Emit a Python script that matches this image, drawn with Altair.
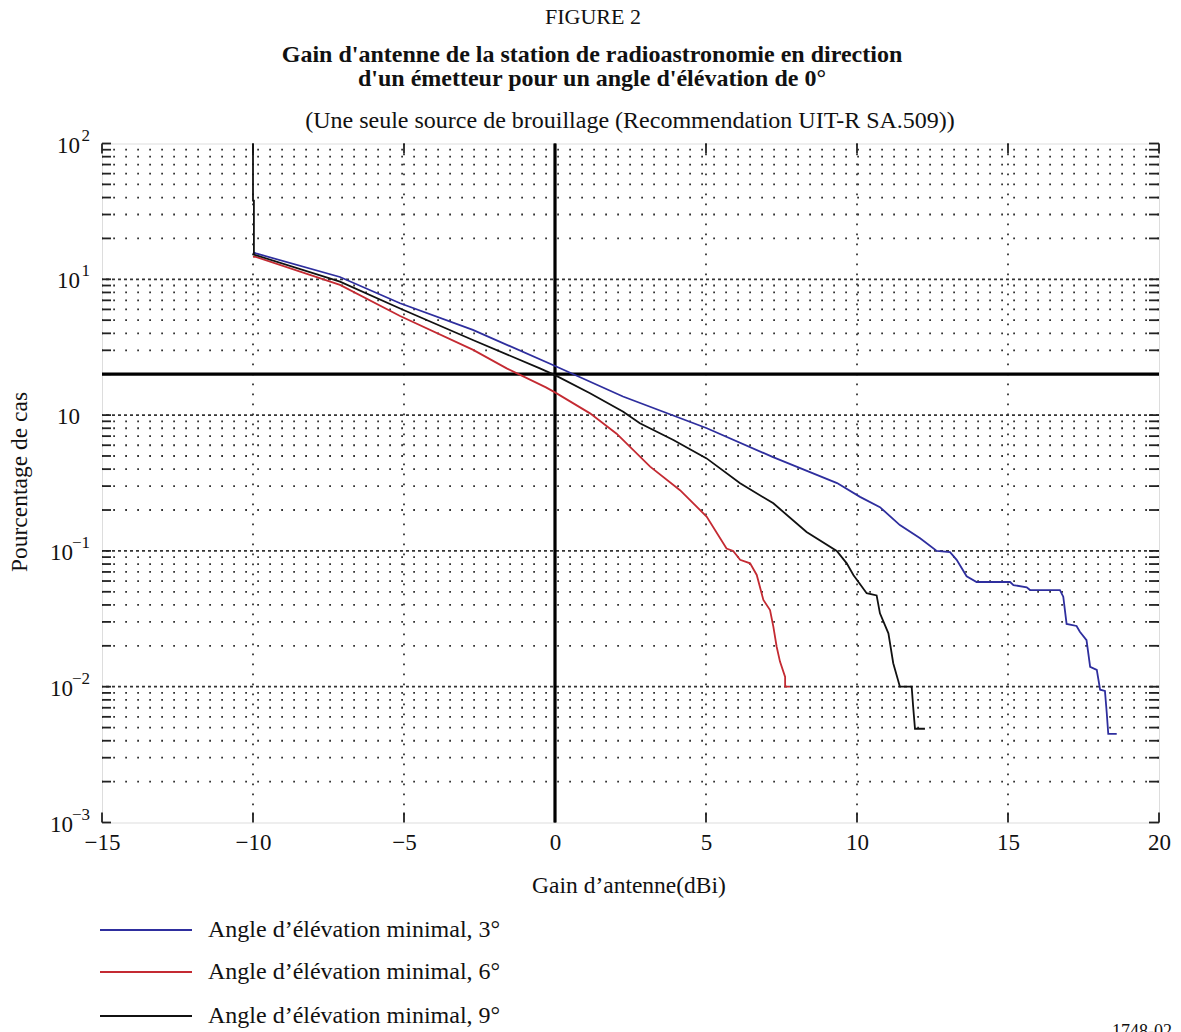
import altair as alt
import pandas as pd

# ---------------- data ----------------
blue_x = [-10, -9.9, -7.12, -5.13, -2.72, -0.07, 2.25, 5.03, 7.22, 9.34, 10.1, 10.76, 11.42,
          12.09, 12.64, 13.08, 13.30, 13.63, 13.96, 15.07, 15.18, 15.62, 15.73, 16.72, 16.83, 16.94,
          17.27, 17.38, 17.6, 17.72, 17.94, 18.05, 18.21, 18.27, 18.32, 18.6]
blue_y = [15.8, 15.5, 10.4, 6.66, 4.24, 2.34, 1.37, 0.80, 0.49, 0.316, 0.25, 0.21, 0.155,
          0.124, 0.10, 0.098, 0.086, 0.065, 0.059, 0.059, 0.056, 0.054, 0.0515, 0.0515, 0.046, 0.029,
          0.028, 0.0254, 0.022, 0.014, 0.0133, 0.0095, 0.0093, 0.0064, 0.0045, 0.0045]

red_x = [-10, -9.93, -7.12, -5.13, -2.71, -1.6, -0.3, 0, 1.16, 2.04, 3.15, 4.14, 5.02, 5.68,
         5.9, 6.13, 6.46, 6.68, 6.9, 7.12, 7.23, 7.34, 7.45, 7.62, 7.62, 7.78]
red_y = [14.6, 14.7, 9.1, 5.37, 3.02, 2.21, 1.6, 1.47, 1.03, 0.73, 0.417, 0.28, 0.179, 0.104,
         0.10, 0.086, 0.081, 0.0665, 0.0435, 0.0367, 0.0277, 0.0197, 0.0153, 0.0118, 0.0100, 0.0100]

black_x = [-10, -10, -9.97, -9.97, -7.12, -5.13, -2.72, -0.5, 0, 1.16, 2.26, 2.81, 3.92, 5.02, 6.13,
           7.23, 8.33, 9.33, 9.66, 9.88, 10.32, 10.65, 10.76, 11.04, 11.2, 11.42, 11.81, 11.86,
           11.92, 12.25]
black_y = [100, 38, 38, 15.2, 9.6, 6.1, 3.57, 2.21, 1.97, 1.45, 1.06, 0.87, 0.656, 0.48, 0.315,
           0.224, 0.138, 0.10, 0.081, 0.0665, 0.0488, 0.047, 0.0347, 0.0247, 0.0149, 0.010, 0.010,
           0.0071, 0.0049, 0.0049]

series_names = ["Angle d’élévation minimal, 3°",
                "Angle d’élévation minimal, 6°",
                "Angle d’élévation minimal, 9°"]
series_colors = ["#2e2e9e", "#c42a32", "#111111"]

x_ticks = [-15, -10, -5, 0, 5, 10, 15, 20]
x_grid = [-10, -5, 5, 10, 15]
decades = [0.001, 0.01, 0.1, 1, 10, 100]
exponents = ["−3", "−2", "−1", "", "1", "2"]
minor_vals = [m * 10.0 ** k for k in range(-3, 2) for m in range(2, 10)]
ref_gain = [0]
ref_pct = [2]

fig_label = "FIGURE 2"
title_lines = ["Gain d'antenne de la station de radioastronomie en direction",
               "d'un émetteur pour un angle d'élévation de 0°"]
subtitle = "(Une seule source de brouillage (Recommendation UIT-R SA.509))"
x_title = "Gain d’antenne(dBi)"
y_title = "Pourcentage de cas"
doc_ref = "1748-02"

# ---------------- layout ----------------
W, H = 1057, 679
PL, PT = 102, 143.5
FONT = "Liberation Serif"

rows = []
for name, xs, ys in zip(series_names, [blue_x, red_x, black_x], [blue_y, red_y, black_y]):
    for i, (a, b) in enumerate(zip(xs, ys)):
        rows.append({"gain": a, "pct": b, "series": name, "i": i})
df = pd.DataFrame(rows)

xscale = alt.Scale(domain=[-15, 20], nice=False, zero=False)
yscale = alt.Scale(type="log", domain=[0.001, 100], nice=False)

xaxis = alt.Axis(values=x_ticks, title=None, grid=False, ticks=False, tickSize=0, domain=False,
                 labelFont=FONT, labelFontSize=23, labelColor="#111", labelPadding=9,
                 labelFlush=False, labelOverlap=False)
yaxis = alt.Axis(values=decades, title=None, grid=False, ticks=False, tickSize=0, domain=False,
                 labels=False)

layers = []

# minor horizontal dotted grid
layers.append(alt.Chart(pd.DataFrame({"v": minor_vals})).mark_rule(
    color="#333", strokeWidth=1.8, strokeDash=[1.8, 10.2]).encode(
    y=alt.Y("v:Q", scale=yscale, axis=yaxis)))
# decade horizontal grid
layers.append(alt.Chart(pd.DataFrame({"v": decades[1:-1]})).mark_rule(
    color="#333", strokeWidth=1.8, strokeDash=[3, 3]).encode(
    y=alt.Y("v:Q", scale=yscale, axis=yaxis)))
# vertical dotted grid
layers.append(alt.Chart(pd.DataFrame({"v": x_grid})).mark_rule(
    color="#333", strokeWidth=1.8, strokeDash=[1.8, 8.2]).encode(
    x=alt.X("v:Q", scale=xscale, axis=xaxis)))

# inward ticks
tick_df = pd.DataFrame({"v": minor_vals + decades})
layers.append(alt.Chart(tick_df).mark_rule(color="#222", strokeWidth=1.8).encode(
    y=alt.Y("v:Q", scale=yscale, axis=yaxis), x=alt.value(0), x2=alt.value(9)))
layers.append(alt.Chart(tick_df).mark_rule(color="#222", strokeWidth=1.8).encode(
    y=alt.Y("v:Q", scale=yscale, axis=yaxis), x=alt.value(W - 10), x2=alt.value(W)))
xt_df = pd.DataFrame({"v": x_ticks})
layers.append(alt.Chart(xt_df).mark_rule(color="#222", strokeWidth=1.8).encode(
    x=alt.X("v:Q", scale=xscale, axis=xaxis), y=alt.value(H), y2=alt.value(H - 10)))
layers.append(alt.Chart(xt_df).mark_rule(color="#222", strokeWidth=1.8).encode(
    x=alt.X("v:Q", scale=xscale, axis=xaxis), y=alt.value(0), y2=alt.value(10)))

# thick reference lines
layers.append(alt.Chart(pd.DataFrame({"v": ref_gain})).mark_rule(color="#000", strokeWidth=3.2).encode(
    x=alt.X("v:Q", scale=xscale, axis=xaxis)))
layers.append(alt.Chart(pd.DataFrame({"v": ref_pct})).mark_rule(color="#000", strokeWidth=3.2).encode(
    y=alt.Y("v:Q", scale=yscale, axis=yaxis)))

# series lines (blue, red, black on top)
for name, col in zip(series_names, series_colors):
    layers.append(alt.Chart(df).transform_filter(alt.datum.series == name).mark_line(
        color=col, strokeWidth=1.8, clip=True, interpolate="linear").encode(
        x=alt.X("gain:Q", scale=xscale, axis=xaxis),
        y=alt.Y("pct:Q", scale=yscale, axis=yaxis),
        order=alt.Order("i:Q")))

# y labels: base "10" plus raised exponent
lab_df = pd.DataFrame({"v": decades, "e": exponents, "b": ["10"] * len(decades)})
layers.append(alt.Chart(lab_df).transform_filter("datum.v >= 1").mark_text(
    font=FONT, fontSize=23, color="#111", align="right", baseline="middle", dx=-22, dy=2).encode(
    y=alt.Y("v:Q", scale=yscale, axis=yaxis), x=alt.value(0), text="b:N"))
layers.append(alt.Chart(lab_df).transform_filter("datum.v < 1").mark_text(
    font=FONT, fontSize=23, color="#111", align="right", baseline="middle", dx=-29, dy=2).encode(
    y=alt.Y("v:Q", scale=yscale, axis=yaxis), x=alt.value(0), text="b:N"))
layers.append(alt.Chart(lab_df).mark_text(
    font=FONT, fontSize=17, color="#111", align="right", baseline="middle", dx=-12, dy=-8).encode(
    y=alt.Y("v:Q", scale=yscale, axis=yaxis), x=alt.value(0), text="e:N"))

def txt(t, x, y, size=20, weight="normal", align="center", angle=0, baseline="alphabetic"):
    return alt.Chart(pd.DataFrame({"t": [t]})).mark_text(
        font=FONT, fontSize=size, fontWeight=weight, color="#111", align=align,
        baseline=baseline, angle=angle).encode(text="t:N", x=alt.value(x), y=alt.value(y))

layers.append(txt(fig_label, 593 - PL, 24 - PT, size=22))
layers.append(txt(title_lines[0], 592 - PL, 62 - PT, size=24, weight="bold"))
layers.append(txt(title_lines[1], 592 - PL, 86 - PT, size=24, weight="bold"))
layers.append(txt(subtitle, 630 - PL, 128 - PT, size=24))
layers.append(txt(x_title, 629 - PL, 893 - PT, size=23.5))
layers.append(txt(y_title, 20 - PL, 482 - PT, size=23.5, angle=270, baseline="middle"))
layers.append(txt(doc_ref, 1142 - PL, 1037 - PT, size=18))

# legend
leg_y = [930 - PT, 972 - PT, 1016 - PT]
for name, col, ly in zip(series_names, series_colors, leg_y):
    layers.append(alt.Chart(pd.DataFrame({"t": [name]})).mark_rule(color=col, strokeWidth=2).encode(
        x=alt.value(100 - PL), x2=alt.value(192 - PL), y=alt.value(ly)))
    layers.append(txt(name, 208 - PL, ly, size=24, align="left", baseline="middle"))

chart = alt.layer(*layers).properties(
    width=W, height=H,
    autosize=alt.AutoSizeParams(type="none"),
    padding={"left": PL, "top": PT, "right": 1181 - PL - W, "bottom": 1032 - PT - H},
    background="white",
).configure_view(stroke="#222", strokeWidth=2.2).configure(font=FONT)

chart.save("out.html", embed_options={"renderer": "svg", "actions": False})
